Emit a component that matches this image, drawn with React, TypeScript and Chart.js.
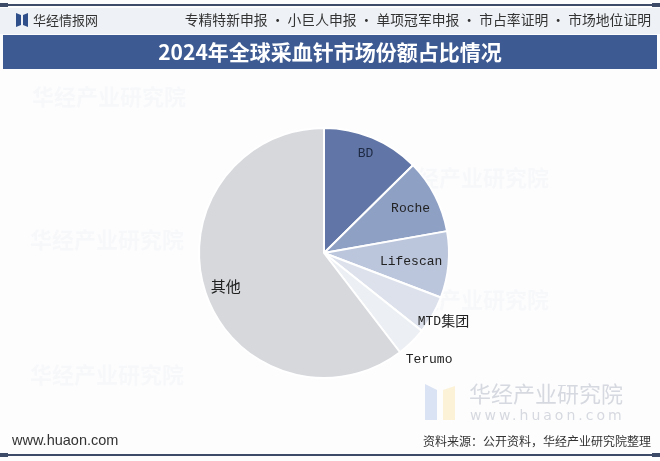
import React, { useEffect, useRef } from "react";
import { Chart, registerables } from "chart.js";

Chart.register(...registerables);

const categories = ["BD", "Roche", "Lifescan", "MTD集团", "Terumo", "其他"];
const shares = [12.6, 9.6, 8.6, 4.9, 3.9, 60.4];
const sliceColors = ["#6176a6", "#8fa0c5", "#bbc5db", "#dce1eb", "#eceff3", "#d6d8dc"];
const labelRadius = [0.86, 0.78, 0.7, 1.1, 1.2, 0.83];

const titleText = "2024年全球采血针市场份额占比情况";
const brandText = "华经情报网";
const servicesText = "专精特新申报 · 小巨人申报 · 单项冠军申报 · 市占率证明 · 市场地位证明";
const siteText = "www.huaon.com";
const sourceText = "资料来源：公开资料，华经产业研究院整理";
const watermarkText = "华经产业研究院";

const CJK = '"Noto Sans CJK SC", "Noto Sans", sans-serif';

const framePlugin = {
  id: "frame",
  beforeDraw(chart: any) {
    const ctx = chart.ctx as CanvasRenderingContext2D;
    const W = chart.width;
    const H = chart.height;
    ctx.save();
    ctx.fillStyle = "#fdfdfe";
    ctx.fillRect(0, 0, W, H);

    // faint watermarks
    ctx.fillStyle = "rgba(200,205,215,0.1)";
    ctx.font = `bold 22px ${CJK}`;
    ctx.textBaseline = "middle";
    ctx.textAlign = "left";
    ctx.fillText(watermarkText, 32, 97);
    ctx.fillText(watermarkText, 395, 178);
    ctx.fillText(watermarkText, 30, 240);
    ctx.fillText(watermarkText, 30, 375);
    ctx.fillText(watermarkText, 395, 300);

    // bottom-right logo watermark
    ctx.fillStyle = "rgba(190,205,235,0.55)";
    ctx.beginPath();
    ctx.moveTo(425, 384);
    ctx.lineTo(437, 390);
    ctx.lineTo(437, 420);
    ctx.lineTo(425, 420);
    ctx.closePath();
    ctx.fill();
    ctx.fillStyle = "rgba(250,235,190,0.6)";
    ctx.beginPath();
    ctx.moveTo(443, 390);
    ctx.lineTo(455, 386);
    ctx.lineTo(455, 420);
    ctx.lineTo(443, 420);
    ctx.closePath();
    ctx.fill();
    ctx.fillStyle = "#d6d9df";
    ctx.font = `22px ${CJK}`;
    ctx.fillText(watermarkText, 469, 394);
    ctx.font = `14px "DejaVu Sans", sans-serif`;
    (ctx as any).letterSpacing = "3px";
    ctx.fillText(siteText, 470, 416);
    (ctx as any).letterSpacing = "0px";

    // top line
    ctx.fillStyle = "#3d4b68";
    ctx.fillRect(0, 4, W, 2);
    ctx.fillRect(0, 3, 8, 4);
    ctx.fillRect(W - 8, 3, 8, 4);

    // header strip
    ctx.fillStyle = "#eef1f6";
    ctx.fillRect(0, 8, W, 26);
    // logo
    ctx.fillStyle = "#2f4f8a";
    ctx.beginPath();
    ctx.moveTo(16, 13);
    ctx.lineTo(21, 15);
    ctx.lineTo(21, 25);
    ctx.lineTo(16, 27);
    ctx.closePath();
    ctx.fill();
    ctx.beginPath();
    ctx.moveTo(23, 15);
    ctx.lineTo(28, 13);
    ctx.lineTo(28, 27);
    ctx.lineTo(23, 25);
    ctx.closePath();
    ctx.fill();

    ctx.fillStyle = "#333333";
    ctx.font = `13px ${CJK}`;
    ctx.textAlign = "left";
    ctx.fillText(brandText, 33, 20);
    ctx.textAlign = "right";
    ctx.font = `13.8px ${CJK}`;
    ctx.fillText(servicesText, 651, 20);

    // title bar
    ctx.fillStyle = "#3d5a93";
    ctx.fillRect(3, 35, W - 6, 34);
    ctx.fillStyle = "#ffffff";
    ctx.font = `bold 21px ${CJK}`;
    ctx.textAlign = "center";
    ctx.fillText(titleText, 330, 52);

    // footer
    ctx.fillStyle = "#333333";
    ctx.font = `14.5px "Liberation Sans", Arial, sans-serif`;
    ctx.textAlign = "left";
    ctx.fillText(siteText, 12, 441);
    ctx.font = `12px ${CJK}`;
    ctx.textAlign = "right";
    ctx.fillText(sourceText, 651, 441);
    ctx.fillStyle = "#3d4b68";
    ctx.fillRect(0, 454, W, 2);
    ctx.fillRect(0, 453, 8, 4);
    ctx.fillRect(W - 8, 453, 8, 4);
    ctx.restore();
  },
};

const labelPlugin = {
  id: "sliceLabels",
  afterDatasetsDraw(chart: any) {
    const ctx = chart.ctx as CanvasRenderingContext2D;
    const meta = chart.getDatasetMeta(0);
    ctx.save();
    ctx.textAlign = "center";
    ctx.textBaseline = "middle";
    meta.data.forEach((arc: any, i: number) => {
      const p = arc.getProps(["x", "y", "startAngle", "endAngle", "outerRadius"], true);
      const mid = (p.startAngle + p.endAngle) / 2;
      const r = p.outerRadius * labelRadius[i];
      const x = p.x + Math.cos(mid) * r;
      const y = p.y + Math.sin(mid) * r;
      const label = chart.data.labels[i] as string;
      ctx.fillStyle = i === 0 ? "#1e2a44" : "#222222";
      if (/[\u4e00-\u9fff]/.test(label) && !/[A-Z]/.test(label)) {
        ctx.font = `15px ${CJK}`;
        ctx.fillText(label, x, y);
      } else if (/[\u4e00-\u9fff]/.test(label)) {
        const latin = label.replace(/[\u4e00-\u9fff]+/g, "");
        const cjk = label.replace(/[^\u4e00-\u9fff]+/g, "");
        ctx.font = `13px "Liberation Mono", monospace`;
        const w1 = ctx.measureText(latin).width;
        ctx.font = `14px ${CJK}`;
        const w2 = ctx.measureText(cjk).width;
        const x0 = x - (w1 + w2) / 2;
        ctx.textAlign = "left";
        ctx.font = `13px "Liberation Mono", monospace`;
        ctx.fillText(latin, x0, y);
        ctx.font = `14px ${CJK}`;
        ctx.fillText(cjk, x0 + w1, y);
        ctx.textAlign = "center";
      } else {
        ctx.font = `13px "Liberation Mono", monospace`;
        ctx.fillText(label, x, y);
      }
    });
    ctx.restore();
  },
};

export default function App() {
  const ref = useRef<HTMLCanvasElement>(null);
  useEffect(() => {
    if (!ref.current) return;
    const chart = new Chart(ref.current, {
      type: "pie",
      data: {
        labels: categories,
        datasets: [
          {
            data: shares,
            backgroundColor: sliceColors,
            borderColor: "#ffffff",
            borderWidth: 2,
          },
        ],
      },
      options: {
        responsive: false,
        animation: false,
        layout: { padding: { left: 198, right: 210, top: 127, bottom: 82 } },
        plugins: {
          legend: { display: false },
          tooltip: { enabled: false },
          title: { display: false },
        },
      },
      plugins: [framePlugin, labelPlugin],
    });
    return () => chart.destroy();
  }, []);
  return (
    <div style={{ position: "fixed", left: 0, top: 0, width: 660, height: 461 }}>
      <canvas ref={ref} width={660} height={461} style={{ width: 660, height: 461, display: "block" }} />
    </div>
  );
}
